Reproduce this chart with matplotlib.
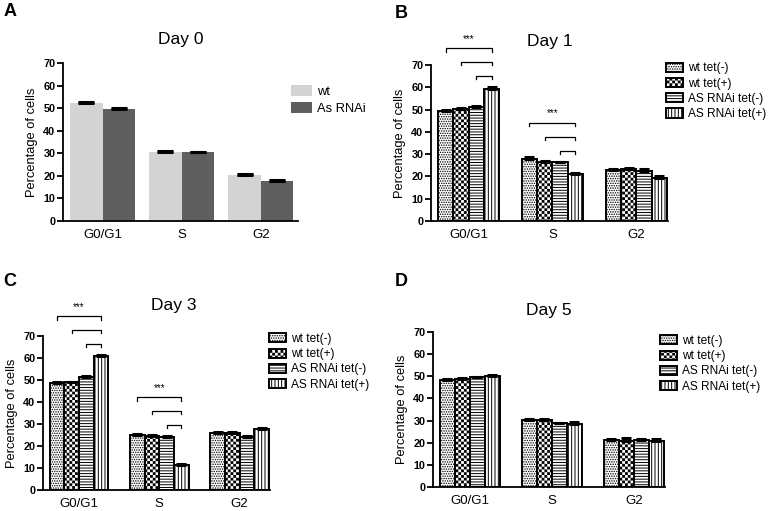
import matplotlib
matplotlib.use("Agg")
import matplotlib.pyplot as plt
import matplotlib.hatch as mhatch
from matplotlib.path import Path
import numpy as np

plt.rcParams["font.family"] = ["Liberation Sans", "DejaVu Sans"]
plt.rcParams["hatch.linewidth"] = 0.7

phases = ["G0/G1", "S", "G2"]

# Day 0: two lines
day0_labels = ["wt", "As RNAi"]
day0_wt = [52.2, 30.7, 20.3]
day0_wt_err = [0.4, 0.3, 0.5]
day0_rnai = [49.5, 30.4, 17.8]
day0_rnai_err = [0.4, 0.3, 0.4]

# Days 1/3/5: four conditions, values per phase
tet_labels = ["wt tet(-)", "wt tet(+)", "AS RNAi tet(-)", "AS RNAi tet(+)"]

day1_wt_neg = [49.3, 27.7, 22.9]
day1_wt_pos = [50.3, 26.3, 23.3]
day1_as_neg = [51.0, 26.3, 22.6]
day1_as_pos = [59.1, 21.1, 19.4]
day1_err = [[0.4, 1.0, 0.5], [0.5, 0.4, 0.5], [0.6, 0.3, 0.6], [0.9, 0.3, 0.8]]

day3_wt_neg = [48.6, 25.1, 26.0]
day3_wt_pos = [48.9, 24.4, 26.0]
day3_as_neg = [51.5, 24.1, 24.1]
day3_as_pos = [61.1, 11.3, 27.7]
day3_err = [[0.3, 0.4, 0.4], [0.3, 0.4, 0.4], [0.4, 0.3, 0.3], [0.4, 0.5, 0.6]]

day5_wt_neg = [48.2, 30.1, 21.3]
day5_wt_pos = [48.6, 30.1, 20.8]
day5_as_neg = [49.5, 28.7, 21.3]
day5_as_pos = [50.2, 28.6, 20.9]
day5_err = [[0.5, 0.8, 0.4], [0.7, 0.8, 1.4], [0.3, 0.3, 0.3], [0.4, 0.6, 0.9]]

# significance brackets: phase -> height of lowest bracket
day1_sig = {"G0/G1": 65.1, "S": 31.6}
day3_sig = {"G0/G1": 66.5, "S": 29.7}

tet_hatches = [".......", "OOOOOO", "------", "|||||"]


class CheckerHatch(mhatch.HatchPatternBase):
    """Filled-square checkerboard, used for 'O' in a hatch string."""

    def __init__(self, hatch, density):
        self.n = hatch.count("O") * density
        self.num_vertices = (self.n * self.n // 2) * 5

    def set_vertices_and_codes(self, vertices, codes):
        step = 1.0 / self.n
        # the hatch path is also stroked, so pull each square in by half a line
        s = plt.rcParams["hatch.linewidth"] / 72 / 2
        sq = np.array([[s, s], [step - s, s], [step - s, step - s], [s, step - s], [s, s]])
        sq_codes = [Path.MOVETO, Path.LINETO, Path.LINETO, Path.LINETO, Path.CLOSEPOLY]
        k = 0
        for i in range(self.n):
            for j in range(self.n):
                if (i + j) % 2:
                    continue
                vertices[k:k + 5] = sq + [i * step, j * step]
                codes[k:k + 5] = sq_codes
                k += 5


mhatch._hatch_types = [h for h in mhatch._hatch_types
                       if h is not mhatch.LargeCircles] + [CheckerHatch]

W, H = 781, 511
fig = plt.figure(figsize=(W / 100, H / 100), dpi=100)


def px_axes(left, right, top, bottom):
    return fig.add_axes([left / W, 1 - bottom / H, (right - left) / W, (bottom - top) / H])


def style(ax, title, title_pad, xlim, title_x=0.5):
    ax.set_xlim(*xlim)
    ax.set_ylim(0, 70)
    ax.set_yticks(range(0, 71, 10))
    ax.set_xticks(range(len(phases)))
    ax.set_xticklabels(phases)
    for s in ("top", "right"):
        ax.spines[s].set_visible(False)
    for s in ("left", "bottom"):
        ax.spines[s].set_linewidth(1.3)
    ax.tick_params(axis="y", length=4, width=1.3, labelsize=7.8, pad=1.5)
    ax.tick_params(axis="x", length=0, labelsize=9.5, pad=6)
    for lab in ax.get_yticklabels():
        lab.set_fontweight("bold")
    ax.set_ylabel("Percentage of cells", fontsize=9.3, labelpad=4)
    ax.set_title(title, fontsize=12.5, pad=title_pad, x=title_x)


def brackets(ax, centers, base, step=6.2, drop=1.5):
    # lines from bar 3, 2, 1 over to bar 4, stacked upward
    for level, k in enumerate([2, 1, 0]):
        y = base + level * step
        ax.plot([centers[k], centers[k], centers[3], centers[3]],
                [y - drop, y, y, y - drop], color="black", lw=0.9, clip_on=False)
    ax.text((centers[0] + centers[3]) / 2, base + 2 * step + 4.3, "***",
            ha="center", va="center", fontsize=7, clip_on=False)


def tet_panel(ax, series, errs, title, sig, legend_xy, title_pad, title_x=0.5):
    w = 0.183
    x = np.arange(len(phases))
    for k, (vals, err) in enumerate(zip(series, errs)):
        xs = x + (k - 1.5) * w
        ax.bar(xs, vals, width=w, facecolor="white", edgecolor="black",
               linewidth=1.4, hatch=tet_hatches[k], label=tet_labels[k], zorder=2)
        ax.errorbar(xs, vals, yerr=[np.zeros(len(vals)), err], fmt="none",
                    ecolor="black", elinewidth=1.4, capsize=3.5, capthick=2.2, zorder=3)
    for phase, base in sig.items():
        i = phases.index(phase)
        brackets(ax, [i + (k - 1.5) * w for k in range(4)], base)
    style(ax, title, title_pad, (-0.45, 2.38), title_x)
    ax.legend(loc="upper left", bbox_to_anchor=(legend_xy[0] / W, 1 - legend_xy[1] / H),
              bbox_transform=fig.transFigure, frameon=False, fontsize=8.6,
              handlelength=1.4, handleheight=0.8, handletextpad=0.45,
              labelspacing=0.27, borderpad=0, borderaxespad=0)


# A: Day 0
axA = px_axes(63, 298, 63, 221)
wA = 0.41
xA = np.arange(len(phases))
axA.bar(xA - wA / 2, day0_wt, width=wA, color="#d3d3d3", label=day0_labels[0], zorder=2)
axA.bar(xA + wA / 2, day0_rnai, width=wA, color="#5f5f5f", label=day0_labels[1], zorder=2)
axA.errorbar(xA - wA / 2, day0_wt, yerr=[np.zeros(3), day0_wt_err], fmt="none",
             ecolor="black", elinewidth=1.4, capsize=6, capthick=2.2, zorder=3)
axA.errorbar(xA + wA / 2, day0_rnai, yerr=[np.zeros(3), day0_rnai_err], fmt="none",
             ecolor="black", elinewidth=1.4, capsize=6, capthick=2.2, zorder=3)
style(axA, "Day 0", 14, (-0.5, 2.47))
axA.legend(loc="upper left", bbox_to_anchor=(291 / W, 1 - 85.5 / H),
           bbox_transform=fig.transFigure, frameon=False, fontsize=9.3,
           handlelength=1.6, handleheight=0.9, handletextpad=0.4,
           labelspacing=0.3, borderpad=0, borderaxespad=0)

# B: Day 1
axB = px_axes(431, 668, 65, 221)
tet_panel(axB, [day1_wt_neg, day1_wt_pos, day1_as_neg, day1_as_pos], day1_err,
          "Day 1", day1_sig, (666, 62.5), 14)

# C: Day 3
axC = px_axes(43, 270, 336, 490)
tet_panel(axC, [day3_wt_neg, day3_wt_pos, day3_as_neg, day3_as_pos], day3_err,
          "Day 3", day3_sig, (269, 333), 19, title_x=0.575)

# D: Day 5
axD = px_axes(433, 665, 332, 487)
tet_panel(axD, [day5_wt_neg, day5_wt_pos, day5_as_neg, day5_as_pos], day5_err,
          "Day 5", {}, (660, 335), 12)

for letter, (px, py) in zip("ABCD", [(4, 12), (395, 13), (3, 281), (395, 281)]):
    fig.text(px / W, 1 - py / H, letter, fontsize=13, fontweight="bold", va="center")

fig.savefig("out.png", dpi=100)
